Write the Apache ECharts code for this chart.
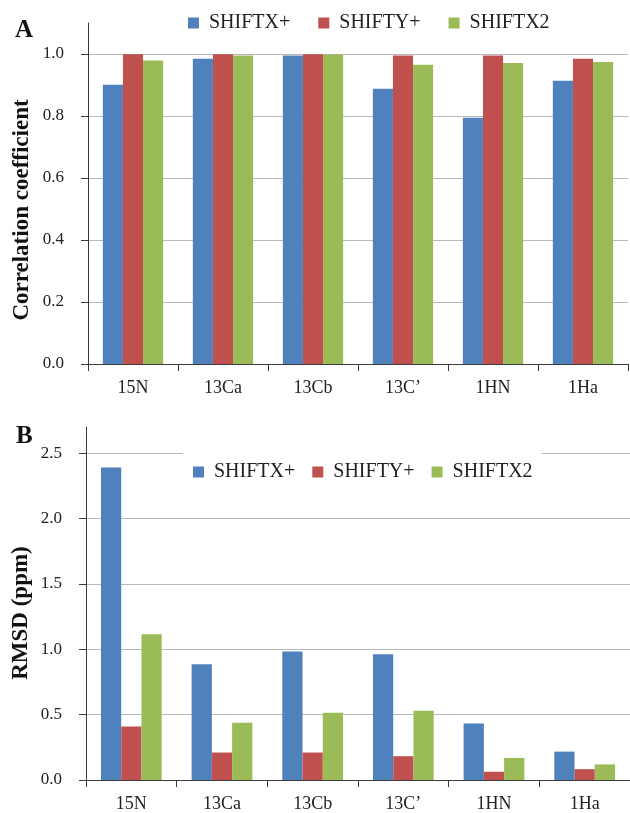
<!DOCTYPE html>
<html><head><meta charset="utf-8">
<script src="https://cdn.jsdelivr.net/npm/echarts@6/dist/echarts.min.js"></script>
<style>html,body{margin:0;padding:0;background:#fff}#c{width:630px;height:813px}</style>
</head><body><div id="c"></div>
<script>
const categories = ['15N', '13Ca', '13Cb', '13C\u2019', '1HN', '1Ha'];
const seriesNames = ['SHIFTX+', 'SHIFTY+', 'SHIFTX2'];
const corrShiftxPlus = [0.901, 0.985, 0.995, 0.888, 0.794, 0.914];
const corrShiftyPlus = [0.999, 0.999, 0.999, 0.995, 0.995, 0.985];
const corrShiftx2 = [0.979, 0.995, 0.998, 0.965, 0.971, 0.974];
const rmsdShiftxPlus = [2.39, 0.886, 0.982, 0.962, 0.432, 0.217];
const rmsdShiftyPlus = [0.409, 0.21, 0.21, 0.182, 0.063, 0.083];
const rmsdShiftx2 = [1.114, 0.437, 0.515, 0.53, 0.169, 0.119];
const corrTicks = [0, 0.2, 0.4, 0.6, 0.8, 1.0];
const rmsdTicks = [0, 0.5, 1.0, 1.5, 2.0, 2.5];
const colors = ['#4F81BD', '#C0504D', '#9BBB59'];

const FONT = '"Liberation Serif", "Times New Roman", serif';
const chart = echarts.init(document.getElementById('c'), null, {renderer: 'canvas'});

function yAxisCfg(gridIndex, max, interval, ticks) {
  return {
    gridIndex, type: 'value', min: 0, max, interval,
    axisLine: {show: true, lineStyle: {color: '#3a3a3a', width: 1}},
    axisTick: {show: true, length: 7, inside: false, customValues: ticks, lineStyle: {color: '#3a3a3a'}},
    axisLabel: {
      customValues: ticks, margin: 24, fontSize: 17, fontFamily: FONT, color: '#222',
      formatter: v => (v > ticks[ticks.length - 1] + 1e-6 ? '' : v.toFixed(1))
    },
    splitLine: {show: true, lineStyle: {color: '#b8b8b8', width: 1}}
  };
}
function xAxisCfg(gridIndex) {
  return {
    gridIndex, type: 'category', data: categories, boundaryGap: true,
    axisLine: {show: true, lineStyle: {color: '#3a3a3a', width: 1}},
    axisTick: {show: true, length: 7, alignWithLabel: false, interval: 0, lineStyle: {color: '#3a3a3a'}},
    axisLabel: {interval: 0, margin: 15, fontSize: 18, fontFamily: FONT, color: '#222'}
  };
}
function barSeries(name, data, idx, axisIdx) {
  return {
    name, type: 'bar', data, xAxisIndex: axisIdx, yAxisIndex: axisIdx,
    barGap: '0%', barCategoryGap: '33%',
    itemStyle: {color: colors[idx]}
  };
}
const legendText = {fontSize: 20, fontFamily: FONT, color: '#222', padding: [0, 0, 0, 5]};

const option = {
  animation: false,
  backgroundColor: '#fff',
  grid: [
    {left: 88, right: 2, top: 23, bottom: 449},
    {left: 86, right: 0, top: 427, bottom: 30}
  ],
  xAxis: [xAxisCfg(0), xAxisCfg(1)],
  yAxis: [yAxisCfg(0, 1.1, 0.2, corrTicks), yAxisCfg(1, 2.7, 0.5, rmsdTicks)],
  legend: [
    {top: 13, left: 188, padding: 0, itemWidth: 11, itemHeight: 11, itemGap: 28, icon: 'rect',
     textStyle: legendText, data: seriesNames},
    {top: 450, left: 183, padding: [12, 9, 12, 10], backgroundColor: '#fff', z: 10,
     itemWidth: 11, itemHeight: 11, itemGap: 17, icon: 'rect',
     textStyle: legendText, data: seriesNames}
  ],
  graphic: [
    {type: 'text', x: 15, y: 31, style: {text: 'A', font: 'bold 25px ' + FONT, fill: '#111', verticalAlign: 'middle'}},
    {type: 'text', x: 16, y: 437, style: {text: 'B', font: 'bold 25px ' + FONT, fill: '#111', verticalAlign: 'middle'}},
    {type: 'text', x: 22, y: 210, rotation: Math.PI / 2,
     style: {text: 'Correlation coefficient', font: 'bold 23px ' + FONT, fill: '#111', align: 'center', verticalAlign: 'middle'}},
    {type: 'text', x: 21, y: 613, rotation: Math.PI / 2,
     style: {text: 'RMSD (ppm)', font: 'bold 23px ' + FONT, fill: '#111', align: 'center', verticalAlign: 'middle'}}
  ],
  series: [
    barSeries(seriesNames[0], corrShiftxPlus, 0, 0),
    barSeries(seriesNames[1], corrShiftyPlus, 1, 0),
    barSeries(seriesNames[2], corrShiftx2, 2, 0),
    barSeries(seriesNames[0], rmsdShiftxPlus, 0, 1),
    barSeries(seriesNames[1], rmsdShiftyPlus, 1, 1),
    barSeries(seriesNames[2], rmsdShiftx2, 2, 1)
  ]
};
chart.setOption(option);
</script>
</body></html>
